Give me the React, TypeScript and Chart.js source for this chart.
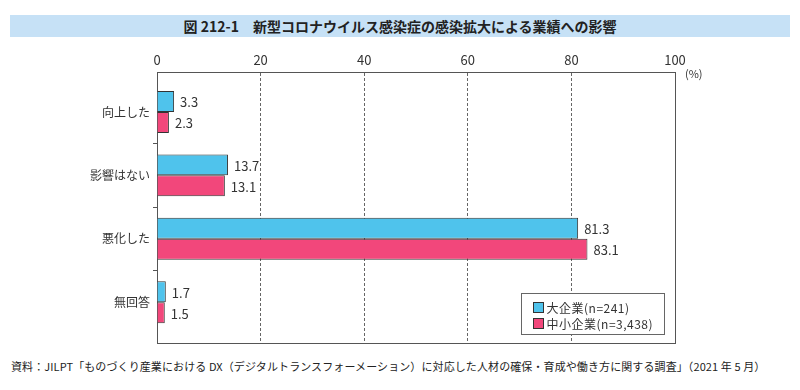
import React, { useEffect, useRef } from "react";
import { Chart, registerables } from "chart.js";

Chart.register(...registerables);

const categories = ["向上した", "影響はない", "悪化した", "無回答"];
const largeValues = [3.3, 13.7, 81.3, 1.7];
const smallValues = [2.3, 13.1, 83.1, 1.5];
const seriesNames = ["大企業(n=241)", "中小企業(n=3,438)"];
const xTicks = [0, 20, 40, 60, 80, 100];

const FONT = "'Noto Sans CJK JP', 'Noto Sans', sans-serif";
const CYAN = "#4FC3EC";
const PINK = "#F2477B";

const framePlugin = {
  id: "frame",
  beforeDatasetsDraw(chart: any) {
    const { ctx, chartArea } = chart;
    ctx.save();
    ctx.strokeStyle = "#555";
    ctx.lineWidth = 1;
    ctx.strokeRect(
      Math.round(chartArea.left) + 0.5,
      Math.round(chartArea.top) + 0.5,
      Math.round(chartArea.right - chartArea.left),
      Math.round(chartArea.bottom - chartArea.top)
    );
    ctx.restore();
  },
};

const valueLabelPlugin = {
  id: "valueLabels",
  afterDatasetsDraw(chart: any) {
    const { ctx } = chart;
    ctx.save();
    ctx.font = `13px ${FONT}`;
    ctx.fillStyle = "#333";
    ctx.textAlign = "left";
    ctx.textBaseline = "middle";
    chart.data.datasets.forEach((ds: any, di: number) => {
      const meta = chart.getDatasetMeta(di);
      meta.data.forEach((bar: any, i: number) => {
        const v = ds.data[i].x;
        ctx.fillText(v.toFixed(1), bar.x + 6, bar.y + 1);
      });
    });
    ctx.restore();
  },
};

const extrasPlugin = {
  id: "extras",
  afterDraw(chart: any) {
    const { ctx, chartArea } = chart;
    ctx.save();
    ctx.font = `11px ${FONT}`;
    ctx.fillStyle = "#333";
    ctx.textBaseline = "middle";
    ctx.textAlign = "left";
    ctx.fillText("(%)", chartArea.right + 10, chartArea.top + 2);

    ctx.font = `12px ${FONT}`;
    (ctx as any).letterSpacing = "0.5px";
    const padL = 12;
    const sq = 10;
    const gap = 3;
    const padR = 11;
    const rowH = 16;
    const textW = Math.max(...seriesNames.map((s) => ctx.measureText(s).width));
    const w = Math.round(padL + sq + gap + textW + padR);
    const h = 41;
    const x = Math.round(chartArea.right - 11 - w) + 0.5;
    const y = Math.round(chartArea.bottom - 9 - h) + 0.5;
    ctx.fillStyle = "#fff";
    ctx.fillRect(x, y, w, h);
    ctx.strokeStyle = "#666";
    ctx.lineWidth = 1;
    ctx.strokeRect(x, y, w, h);
    chart.data.datasets.forEach((ds: any, di: number) => {
      const cy = y + 14 + di * rowH;
      ctx.fillStyle = ds.backgroundColor;
      ctx.fillRect(x + padL, cy - sq / 2, sq, sq);
      ctx.strokeStyle = "#333";
      ctx.strokeRect(x + padL, cy - sq / 2, sq, sq);
      ctx.fillStyle = "#333";
      ctx.textBaseline = "middle";
      ctx.fillText(seriesNames[di], x + padL + sq + gap, cy + 1);
    });
    ctx.restore();
  },
};

export default function App() {
  const canvasRef = useRef<HTMLCanvasElement | null>(null);

  useEffect(() => {
    if (!canvasRef.current) return;
    // the half-step ticks (category boundaries) halve the bar ruler's sample size,
    // so categoryPercentage is doubled accordingly (0.66 of a category)
    const catPct = 1.32;
    const chart = new Chart(canvasRef.current, {
      type: "bar",
      data: {
        datasets: [
          {
            label: seriesNames[0],
            data: largeValues.map((v, i) => ({ x: v, y: i })),
            backgroundColor: CYAN,
            borderColor: "#333",
            borderWidth: 1,
            categoryPercentage: catPct,
            barPercentage: 1,
          },
          {
            label: seriesNames[1],
            data: smallValues.map((v, i) => ({ x: v, y: i })),
            backgroundColor: PINK,
            borderColor: "#333",
            borderWidth: 1,
            categoryPercentage: catPct,
            barPercentage: 1,
          },
        ],
      } as any,
      options: {
        indexAxis: "y",
        animation: false,
        responsive: true,
        maintainAspectRatio: false,
        layout: { padding: { left: 0, right: 117, top: 0, bottom: 10 } },
        plugins: {
          legend: { display: false },
          tooltip: { enabled: false },
          title: { display: false },
        },
        scales: {
          x: {
            type: "linear",
            position: "top",
            min: 0,
            max: 100,
            afterBuildTicks: (scale: any) => {
              scale.ticks = xTicks.map((v) => ({ value: v }));
            },
            afterFit: (scale: any) => {
              scale.height = 24;
            },
            ticks: {
              color: "#333",
              font: { size: 13, family: FONT },
              padding: 4,
            },
            grid: {
              color: "#666",
              lineWidth: 1,
              drawTicks: false,
            },
            border: {
              display: true,
              color: "#555",
              dash: (ctx: any) =>
                ctx.tick && ctx.tick.value !== 0 && ctx.tick.value !== 100 ? [3, 2] : [],
            },
          },
          y: {
            type: "linear",
            reverse: true,
            offset: false,
            bounds: "data",
            min: -0.63,
            max: 3.64,
            afterBuildTicks: (scale: any) => {
              scale.ticks = [0, 0.5, 1, 1.5, 2, 2.5, 3].map((v) => ({ value: v }));
            },
            afterFit: (scale: any) => {
              scale.width = 149;
            },
            ticks: {
              autoSkip: false,
              color: "#333",
              font: { size: 12, family: FONT },
              padding: 3,
              callback: (v: any) => (Number.isInteger(v) ? categories[v] : ""),
            },
            grid: {
              offset: false,
              drawOnChartArea: false,
              drawTicks: true,
              tickLength: 4,
              color: "#555",
              tickColor: (ctx: any) =>
                ctx.tick && !Number.isInteger(ctx.tick.value) ? "#555" : "rgba(0,0,0,0)",
            },
            border: { display: true, color: "#555" },
          },
        },
      } as any,
      plugins: [framePlugin, valueLabelPlugin, extrasPlugin],
    });
    return () => chart.destroy();
  }, []);

  return (
    <div style={{ position: "relative", width: 784, height: 374, fontFamily: FONT }}>
      <div
        style={{
          position: "absolute",
          left: 2,
          top: 7,
          width: 780,
          height: 22,
          background: "#C6E1F6",
          display: "flex",
          alignItems: "center",
          justifyContent: "center",
          fontWeight: "bold",
          fontSize: 14,
          color: "#222",
          whiteSpace: "nowrap",
        }}
      >
        図 212-1　新型コロナウイルス感染症の感染拡大による業績への影響
      </div>
      <div style={{ position: "absolute", left: 0, top: 40, width: 784, height: 305 }}>
        <canvas ref={canvasRef} />
      </div>
      <div
        style={{
          position: "absolute",
          left: 3,
          top: 350,
          fontSize: 11,
          letterSpacing: 0.1,
          color: "#222",
          whiteSpace: "nowrap",
        }}
      >
        資料：JILPT「ものづくり産業における DX（デジタルトランスフォーメーション）に対応した人材の確保・育成や働き方に関する調査」（2021 年 5 月）
      </div>
    </div>
  );
}
